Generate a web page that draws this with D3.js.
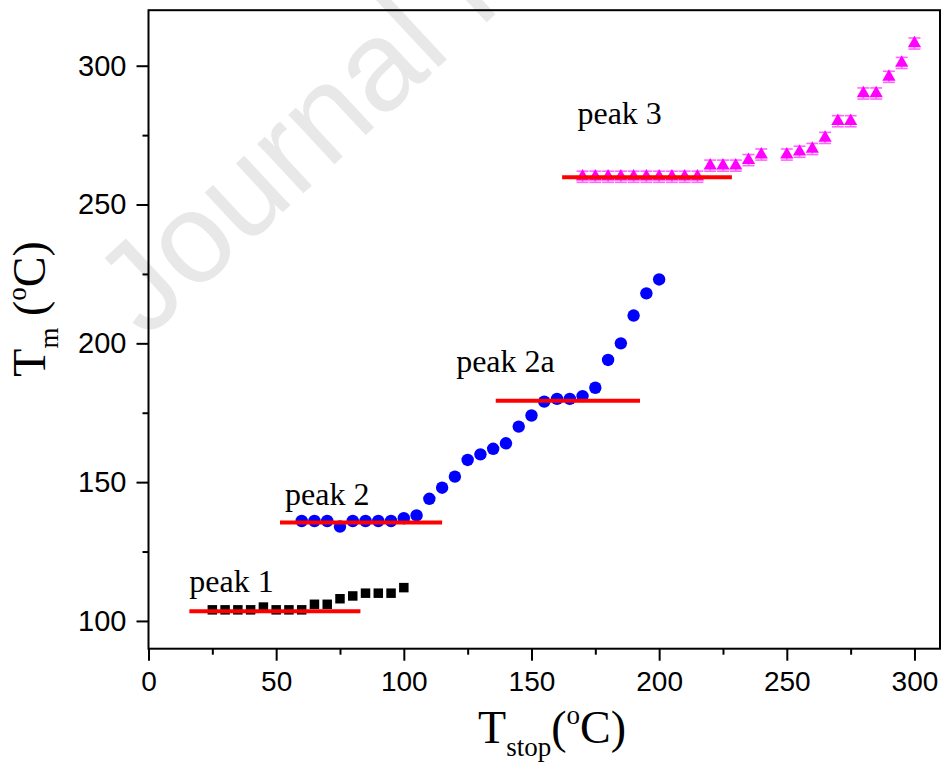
<!DOCTYPE html>
<html>
<head>
<meta charset="utf-8">
<script src="https://cdn.jsdelivr.net/npm/d3@7"></script>
<style>
  html, body { margin: 0; padding: 0; background: #fff; }
  svg { display: block; }
</style>
</head>
<body>
<svg id="chart" width="943" height="763"></svg>
<script>
// Peak 1 (black squares)
const peak1X = [25, 30, 35, 40, 45, 50, 55, 60, 65, 70, 75, 80, 85, 90, 95, 100];
const peak1Y = [104, 104, 104, 104, 105, 104, 104, 104, 106, 106, 108, 109, 110, 110, 110, 112];

// Peak 2 / 2a (blue circles)
const peak2X = [60, 65, 70, 75, 80, 85, 90, 95, 100, 105, 110, 115, 120, 125, 130, 135, 140,
                145, 150, 155, 160, 165, 170, 175, 180, 185, 190, 195, 200];
const peak2Y = [136, 136, 136, 134, 136, 136, 136, 136, 137, 138, 144, 148, 152, 158, 160, 162, 164,
                170, 174, 179, 180, 180, 181, 184, 194, 200, 210, 218, 223];

// Peak 3 (magenta triangles)
const peak3X = [170, 175, 180, 185, 190, 195, 200, 205, 210, 215, 220, 225, 230, 235, 240,
                250, 255, 260, 265, 270, 275, 280, 285, 290, 295, 300];
const peak3Y = [260, 260, 260, 260, 260, 260, 260, 260, 260, 260, 264, 264, 264, 266, 268,
                268, 269, 270, 274, 280, 280, 290, 290, 296, 301, 308];
const peak3Err = 2;

// Plateau levels (red lines)
const plateauStart = [16, 51.5, 136, 162];
const plateauEnd   = [83, 115, 192.5, 228.5];
const plateauLevel = [103.5, 135.5, 179.3, 259.8];

// Peak labels (data coordinates of the text baseline start)
const labelText = ["peak 1", "peak 2", "peak 2a", "peak 3"];
const labelX    = [16, 53.5, 120.5, 168];
const labelY    = [110.4, 141.8, 189.7, 279];

// Axis ticks
const xTicks = [0, 50, 100, 150, 200, 250, 300];
const xMinor = [25, 75, 125, 175, 225, 275];
const yTicks = [100, 150, 200, 250, 300];
const yMinor = [125, 175, 225, 275];

const svg = d3.select("#chart");
const plotL = 148.5, plotR = 940, plotT = 10.2, plotB = 648.7;

const x = d3.scaleLinear().domain([0, 310]).range([plotL, plotR]);
const y = d3.scaleLinear().domain([90, 320]).range([plotB, plotT]);

// Faint diagonal watermark
svg.append("text")
  .attr("transform", "translate(146,340) rotate(-43)")
  .attr("font-family", "Liberation Sans, Arial, sans-serif")
  .attr("font-size", 128)
  .attr("fill", "#e8e8e8")
  .text("Journal Pre-proof");

// Frame
svg.append("rect")
  .attr("x", plotL).attr("y", plotT)
  .attr("width", plotR - plotL).attr("height", plotB - plotT)
  .attr("fill", "none").attr("stroke", "#000").attr("stroke-width", 2);

// Axes
const xAxis = d3.axisBottom(x).tickValues(xTicks).tickSize(12).tickPadding(10).tickFormat(d3.format("d"));
const gx = svg.append("g").attr("transform", `translate(0,${plotB})`).call(xAxis);
gx.select(".domain").remove();
gx.selectAll(".tick line").attr("stroke-width", 2);
gx.selectAll(".tick text").attr("font-family", "Liberation Sans, Arial, sans-serif").attr("font-size", 28).attr("fill", "#000");

const gxm = svg.append("g").attr("transform", `translate(0,${plotB})`)
  .call(d3.axisBottom(x).tickValues(xMinor).tickSize(6).tickFormat(""));
gxm.select(".domain").remove();
gxm.selectAll(".tick line").attr("stroke-width", 2);

const yAxis = d3.axisLeft(y).tickValues(yTicks).tickSize(12).tickPadding(10).tickFormat(d3.format("d"));
const gy = svg.append("g").attr("transform", `translate(${plotL},0)`).call(yAxis);
gy.select(".domain").remove();
gy.selectAll(".tick line").attr("stroke-width", 2);
gy.selectAll(".tick text").attr("font-family", "Liberation Sans, Arial, sans-serif").attr("font-size", 29).attr("fill", "#000");

const gym = svg.append("g").attr("transform", `translate(${plotL},0)`)
  .call(d3.axisLeft(y).tickValues(yMinor).tickSize(6).tickFormat(""));
gym.select(".domain").remove();
gym.selectAll(".tick line").attr("stroke-width", 2);

// Axis titles
const serif = "Liberation Serif, Times New Roman, serif";
const xt = svg.append("text")
  .attr("x", 552).attr("y", 743)
  .attr("text-anchor", "middle")
  .attr("font-family", serif).attr("font-size", 46).attr("fill", "#000");
xt.append("tspan").text("T");
xt.append("tspan").attr("font-size", 27).attr("dy", 13).text("stop");
xt.append("tspan").attr("dy", -13).text("(");
xt.append("tspan").attr("font-size", 27).attr("dy", -19).text("o");
xt.append("tspan").attr("dy", 19).text("C)");

const yt = svg.append("text")
  .attr("transform", "translate(45,309) rotate(-90)")
  .attr("text-anchor", "middle")
  .attr("font-family", serif).attr("font-size", 46).attr("fill", "#000");
yt.append("tspan").text("T");
yt.append("tspan").attr("font-size", 27).attr("dy", 13).text("m");
yt.append("tspan").attr("dy", -13).text(" (");
yt.append("tspan").attr("font-size", 27).attr("dy", -19).text("o");
yt.append("tspan").attr("dy", 19).text("C)");

// Plateau lines
const plateaus = plateauLevel.map((v, i) => ({ x0: plateauStart[i], x1: plateauEnd[i], v }));

// Peak 1 squares
const p1 = peak1X.map((d, i) => ({ x: d, y: peak1Y[i] }));
svg.append("g").selectAll("path").data(p1).join("path")
  .attr("transform", d => `translate(${x(d.x)},${y(d.y)})`)
  .attr("d", d3.symbol(d3.symbolSquare, 90))
  .attr("fill", "#000");

// Peak 2 circles
const p2 = peak2X.map((d, i) => ({ x: d, y: peak2Y[i] }));
svg.append("g").selectAll("circle").data(p2).join("circle")
  .attr("cx", d => x(d.x)).attr("cy", d => y(d.y)).attr("r", 6.2)
  .attr("fill", "#0000ff");

// Peak 3 triangles with error caps
const p3 = peak3X.map((d, i) => ({ x: d, y: peak3Y[i] }));
const eg = svg.append("g").attr("stroke", "#ff66ff").attr("stroke-width", 1.6);
p3.forEach(d => {
  eg.append("line").attr("x1", x(d.x)).attr("x2", x(d.x)).attr("y1", y(d.y + peak3Err)).attr("y2", y(d.y - peak3Err));
  eg.append("line").attr("x1", x(d.x) - 6).attr("x2", x(d.x) + 6).attr("y1", y(d.y + peak3Err)).attr("y2", y(d.y + peak3Err));
  eg.append("line").attr("x1", x(d.x) - 6).attr("x2", x(d.x) + 6).attr("y1", y(d.y - peak3Err)).attr("y2", y(d.y - peak3Err));
});
svg.append("g").selectAll("path").data(p3).join("path")
  .attr("transform", d => `translate(${x(d.x)},${y(d.y)})`)
  .attr("d", d3.symbol(d3.symbolTriangle, 76))
  .attr("fill", "#ff00ff");

svg.append("g").selectAll("line").data(plateaus).join("line")
  .attr("x1", d => x(d.x0)).attr("x2", d => x(d.x1))
  .attr("y1", d => y(d.v)).attr("y2", d => y(d.v))
  .attr("stroke", "#ff0000").attr("stroke-width", 4);

// Peak labels
svg.append("g").selectAll("text").data(labelText).join("text")
  .attr("x", (d, i) => x(labelX[i])).attr("y", (d, i) => y(labelY[i]))
  .attr("font-family", serif).attr("font-size", 32).attr("fill", "#000")
  .text(d => d);
</script>
</body>
</html>
